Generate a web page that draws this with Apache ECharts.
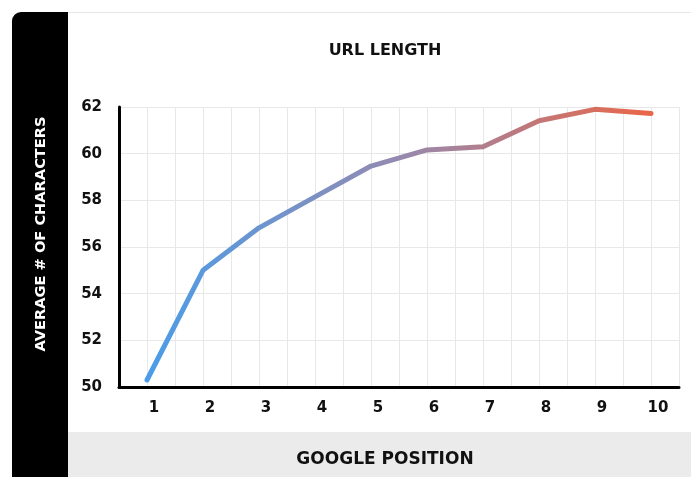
<!DOCTYPE html>
<html>
<head>
<meta charset="utf-8">
<script src="https://cdn.jsdelivr.net/npm/echarts@6/dist/echarts.min.js"></script>
<style>html,body{margin:0;padding:0;background:#fff}#c{width:691px;height:477px}</style>
</head>
<body>
<div id="c"></div>
<script>
const positions = [1, 2, 3, 4, 5, 6, 7, 8, 9, 10];
const avgChars = [50.3, 55.0, 56.82, 58.15, 59.47, 60.16, 60.3, 61.41, 61.9, 61.72];
const yTicks = [50, 52, 54, 56, 58, 60, 62];
const titleText = 'URL LENGTH';
const xTitle = 'GOOGLE POSITION';
const yTitle = 'AVERAGE # OF CHARACTERS';

const FONT = 'DejaVu Sans';
const chart = echarts.init(document.getElementById('c'), null, {renderer: 'canvas'});
chart.setOption({
  animation: false,
  backgroundColor: '#ffffff',
  graphic: [
    {type: 'rect', shape: {x: 68, y: 12, width: 623, height: 1}, style: {fill: '#e6e6e6'}, z: 0},
    {type: 'rect', shape: {x: 12, y: 12, width: 56, height: 470, r: [9, 0, 0, 0]}, style: {fill: '#000000'}, z: 0},
    {type: 'rect', shape: {x: 68, y: 432, width: 623, height: 45}, style: {fill: '#ebebeb'}, z: 0},
    {type: 'text', x: 385, y: 460, style: {text: xTitle, fill: '#111', font: 'bold 17px "' + FONT + '"', align: 'center', verticalAlign: 'middle'}, z: 5},
    {type: 'text', x: 385, y: 51, style: {text: titleText, fill: '#111', font: 'bold 16px "' + FONT + '"', align: 'center', verticalAlign: 'middle'}, z: 5},
    {type: 'text', x: 41, y: 234, rotation: Math.PI / 2, style: {text: yTitle, fill: '#ffffff', font: 'bold 14.6px "' + FONT + '"', align: 'center', verticalAlign: 'middle'}, z: 5}
  ],
  grid: {left: 119, right: 12, top: 107, bottom: 90, containLabel: false},
  xAxis: {
    type: 'value', min: 0.5, max: 10.5, interval: 0.5,
    axisLine: {show: true, onZero: false, lineStyle: {color: '#000', width: 3}},
    axisTick: {show: false},
    splitLine: {show: true, lineStyle: {color: '#e8e8e8', width: 1}},
    axisLabel: {
      margin: 14, color: '#111', fontFamily: FONT, fontWeight: 'bold', fontSize: 15,
      padding: [0, 0, 0, 14],
      showMinLabel: false, showMaxLabel: false,
      formatter: v => (Number.isInteger(v) && positions.includes(v)) ? String(v) : ''
    }
  },
  yAxis: {
    type: 'value', min: yTicks[0], max: yTicks[yTicks.length - 1], interval: 2,
    axisLine: {show: true, lineStyle: {color: '#000', width: 3}},
    axisTick: {show: false},
    splitLine: {show: true, lineStyle: {color: '#e8e8e8', width: 1}},
    axisLabel: {margin: 17, color: '#111', fontFamily: FONT, fontWeight: 'bold', fontSize: 15}
  },
  series: [{
    type: 'line',
    data: positions.map((p, i) => [p, avgChars[i]]),
    showSymbol: false,
    symbol: 'none',
    lineStyle: {
      width: 5, cap: 'round', join: 'round',
      color: new echarts.graphic.LinearGradient(0, 0, 1, 0, [
        {offset: 0, color: '#4a9de9'},
        {offset: 0.5, color: '#958ab0'},
        {offset: 1, color: '#ea6647'}
      ])
    },
    z: 3
  }]
});
</script>
</body>
</html>
